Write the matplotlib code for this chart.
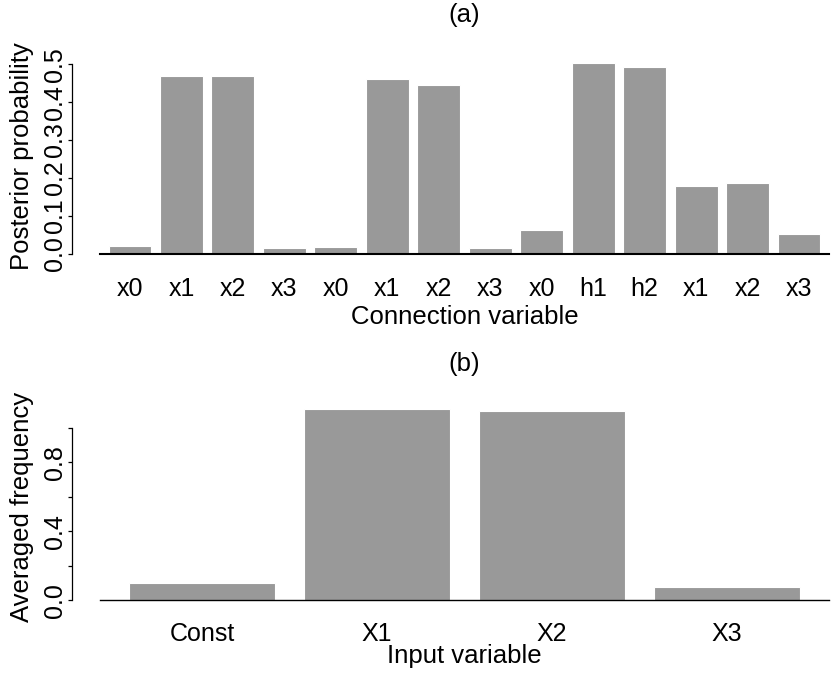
import numpy as np
import matplotlib
matplotlib.use("Agg")
import matplotlib.pyplot as plt

# ---- data ----
conn_labels = ['x0', 'x1', 'x2', 'x3', 'x0', 'x1', 'x2', 'x3',
               'x0', 'h1', 'h2', 'x1', 'x2', 'x3']
post_prob = [0.020, 0.468, 0.469, 0.015, 0.018, 0.461, 0.445, 0.014,
             0.062, 0.503, 0.493, 0.180, 0.187, 0.052]
prob_ticks = [0.0, 0.1, 0.2, 0.3, 0.4, 0.5]
prob_ticklabels = ['0.0', '0.1', '0.2', '0.3', '0.4', '0.5']

input_labels = ['Const', 'X1', 'X2', 'X3']
avg_freq = [0.102, 1.107, 1.097, 0.077]
freq_ticks = [0.0, 0.2, 0.4, 0.6, 0.8, 1.0]
freq_ticklabels = ['0.0', '', '0.4', '', '0.8', '']

plt.rcParams['font.family'] = ['Liberation Sans', 'DejaVu Sans']

W, H = 835, 679
DPI = 100
fig = plt.figure(figsize=(W / DPI, H / DPI), dpi=DPI)


def fx(px):
    return px / W


def fy(py):
    return 1 - py / H


BAR_COLOR = '#999999'
WIDTH, SPACE = 1.0, 0.2
TICK_FS = 18
LAB_FS = 18.5


def panel(rect_px, values, labels, yticks, yticklabels, ytop, title, title_base,
          xlabel, xlabel_top, ylabel, ylabel_center, base_lw, tick_pad):
    left, top, right, bottom = rect_px
    ax = fig.add_axes([fx(left), fy(bottom), fx(right) - fx(left), (bottom - top) / H])
    n = len(values)
    pos = SPACE + WIDTH / 2 + (WIDTH + SPACE) * np.arange(n)
    ax.bar(pos, values, width=WIDTH, color=BAR_COLOR, edgecolor='white', linewidth=0.8, zorder=2)
    ax.set_xlim(0, n * (WIDTH + SPACE) + SPACE)
    ax.set_ylim(0, ytop)
    for s in ['top', 'right']:
        ax.spines[s].set_visible(False)
    ax.spines['bottom'].set_linewidth(base_lw)
    ax.spines['bottom'].set_zorder(3)
    ax.spines['left'].set_position(('outward', (left - 71.7) * 72 / DPI))
    ax.spines['left'].set_bounds(yticks[0], yticks[-1])
    ax.spines['left'].set_linewidth(0.9)
    ax.set_xticks(pos)
    ax.set_xticklabels(labels, fontsize=TICK_FS)
    ax.tick_params(axis='x', length=0, pad=tick_pad)
    ax.set_yticks(yticks)
    ax.set_yticklabels(yticklabels, fontsize=TICK_FS, rotation=90, va='center')
    ax.tick_params(axis='y', length=4 * 72 / DPI, width=0.9, pad=0.2)
    ax.set_title(title, fontsize=LAB_FS, pad=0,
                 y=1 + (top - title_base) / (bottom - top), va='baseline')
    ax.set_xlabel(xlabel, fontsize=LAB_FS)
    ax.xaxis.set_label_coords(fx((left + right) / 2), fy(xlabel_top), transform=fig.transFigure)
    ax.set_ylabel(ylabel, fontsize=LAB_FS)
    ax.yaxis.set_label_coords(fx(34), fy(ylabel_center), transform=fig.transFigure)
    return ax


panel((100, 45, 829, 253.7), post_prob, conn_labels, prob_ticks, prob_ticklabels,
      (253.7 - 45) / 378.8, '(a)', 21.9, 'Connection variable', 304.5,
      'Posterior probability', 156, 1.5, 17.0)

panel((100, 400, 829, 600.3), avg_freq, input_labels, freq_ticks, freq_ticklabels,
      (600.3 - 400) / 172.6, '(b)', 371.5, 'Input variable', 643.5,
      'Averaged frequency', 507, 1.0, 15.5)

fig.savefig('out.png', dpi=DPI)
